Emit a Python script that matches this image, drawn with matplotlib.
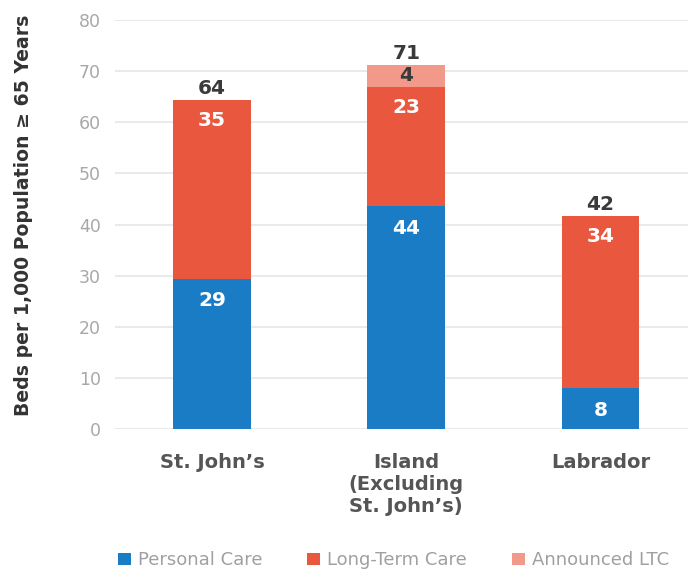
import matplotlib
matplotlib.use("Agg")
import matplotlib.pyplot as plt
import numpy as np
from matplotlib.patches import Patch

categories = ["St. John\u2019s", "Island\n(Excluding\nSt. John\u2019s)", "Labrador"]
personal_care = [29.4, 43.6, 8.0]
long_term_care = [35.0, 23.3, 33.7]
announced_ltc = [0.0, 4.4, 0.0]
series_names = ["Personal Care", "Long-Term Care", "Announced LTC"]
colors = ["#1a7cc4", "#e9573f", "#f3998a"]

plt.rcParams['font.family'] = ['DejaVu Sans']

fig = plt.figure(figsize=(6.88, 5.73), dpi=100)
ax = fig.add_axes([0.167, 0.2513, 0.833, 0.7137])

x = np.arange(len(categories))
w = 0.4
pc = np.array(personal_care)
ltc = np.array(long_term_care)
an = np.array(announced_ltc)

ax.bar(x, pc, w, color=colors[0], zorder=3)
ax.bar(x, ltc, w, bottom=pc, color=colors[1], zorder=3)
ax.bar(x, an, w, bottom=pc + ltc, color=colors[2], zorder=3)

lab_fs = 14.5
for i in range(len(x)):
    ax.annotate(f"{round(pc[i])}", (x[i], pc[i]), xytext=(0, -16), textcoords="offset points",
                ha="center", va="center", color="white", fontsize=lab_fs, fontweight="bold", zorder=4)
    ax.annotate(f"{round(ltc[i])}", (x[i], pc[i] + ltc[i]), xytext=(0, -15), textcoords="offset points",
                ha="center", va="center", color="white", fontsize=lab_fs, fontweight="bold", zorder=4)
    if an[i] > 0:
        ax.text(x[i], pc[i] + ltc[i] + an[i] / 2, f"{round(an[i])}", ha="center", va="center",
                color="#3a3a3a", fontsize=lab_fs, fontweight="bold", zorder=4)
    total = pc[i] + ltc[i] + an[i]
    ax.annotate(f"{round(total)}", (x[i], total), xytext=(0, 8), textcoords="offset points",
                ha="center", va="center", color="#3a3a3a", fontsize=lab_fs, fontweight="bold", zorder=4)

ax.set_ylim(0, 80)
ax.set_xlim(-0.5, 2.45)
ax.set_yticks(np.arange(0, 81, 10))
ax.yaxis.grid(True, color="#e6e6e6", linewidth=1.2, zorder=0)
ax.set_axisbelow(True)
for s in ax.spines.values():
    s.set_visible(False)
ax.tick_params(axis="y", length=0, pad=10, labelsize=12.5, labelcolor="#a8a8a8")
ax.tick_params(axis="x", length=0, pad=17)
ax.set_xticks(x)
ax.set_xticklabels(categories, fontsize=14, fontweight="bold", color="#555555", va="top",
                   linespacing=1.2)

ax.set_ylabel("Beds per 1,000 Population \u2265 65 Years", fontsize=13.6, fontweight="bold",
              color="#333333")
ax.yaxis.set_label_coords(-0.143, 0.523)

handles = [Patch(facecolor=c, edgecolor="none") for c in colors]
fig.legend(handles, series_names, loc="lower center", bbox_to_anchor=(0.572, -0.022), ncol=3,
           frameon=False, fontsize=13, labelcolor="#a0a0a0", handlelength=0.7, handleheight=0.7,
           handletextpad=0.4, columnspacing=2.5)

fig.savefig("out.png", dpi=100)
